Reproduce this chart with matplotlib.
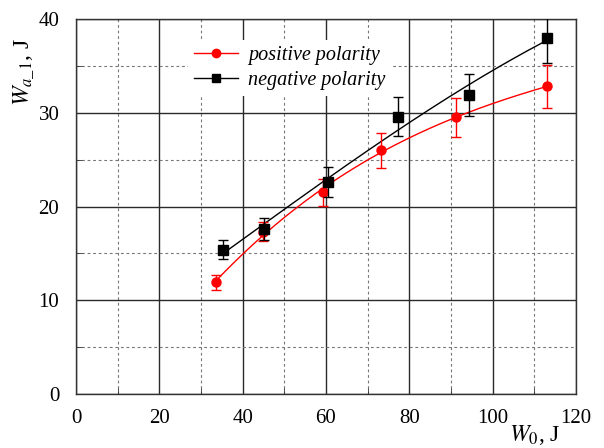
import numpy as np
import matplotlib
matplotlib.use("Agg")
import matplotlib.pyplot as plt
from matplotlib.ticker import MultipleLocator

plt.rcParams['font.family'] = ['Liberation Serif', 'DejaVu Serif']
plt.rcParams['mathtext.fontset'] = 'stix'

# positive polarity
x_pos = [33.5, 44.9, 59.4, 73.2, 91.2, 113.0]
y_pos = [11.9, 17.3, 21.5, 26.0, 29.5, 32.8]
e_pos = [0.8, 1.0, 1.4, 1.85, 2.1, 2.3]

# negative polarity
x_neg = [35.4, 45.2, 60.4, 77.4, 94.4, 113.0]
y_neg = [15.4, 17.6, 22.6, 29.6, 31.9, 38.0]
e_neg = [1.05, 1.2, 1.6, 2.05, 2.2, 2.7]


def suave(x, y, grau=3):
    # curva de ajuste polinomial
    c = np.polyfit(x, y, grau)
    xx = np.linspace(min(x), max(x), 200)
    return xx, np.polyval(c, xx)


fig = plt.figure(figsize=(6.04, 4.48), dpi=100)
ax = fig.add_axes([0.1258, 0.1205, 0.8278, 0.8371])

# grade
ax.set_xlim(0, 120)
ax.set_ylim(0, 40)
ax.xaxis.set_major_locator(MultipleLocator(20))
ax.xaxis.set_minor_locator(MultipleLocator(10))
ax.yaxis.set_major_locator(MultipleLocator(10))
ax.yaxis.set_minor_locator(MultipleLocator(5))
ax.grid(which='major', color='#2a2a2a', lw=1.0, ls='-')
ax.grid(which='minor', color='#777777', lw=0.8, ls=(0, (2.5, 2.5)))
ax.set_axisbelow(True)
ax.tick_params(which='both', direction='in', top=False, right=False,
               labelsize=15, color='#333333')
ax.tick_params(axis='x', pad=11)
ax.tick_params(axis='y', pad=12)
ax.tick_params(which='major', length=0)
ax.tick_params(which='minor', length=4)
for s in ax.spines.values():
    s.set_color('#333333')
    s.set_linewidth(1.0)

# curvas
xx, yy = suave(x_pos, y_pos)
ax.plot(xx, yy, color='red', lw=1.0, zorder=3)
xx, yy = suave(x_neg, y_neg)
ax.plot(xx, yy, color='black', lw=1.0, zorder=3)

ax.errorbar(x_pos, y_pos, yerr=e_pos, fmt='o', color='red', ms=6.5,
            capsize=3.5, elinewidth=1.0, capthick=1.0, zorder=4)
ax.errorbar(x_neg, y_neg, yerr=e_neg, fmt='s', color='black', ms=6.5,
            capsize=3.5, elinewidth=1.0, capthick=1.0, zorder=5)

# legenda
h1, = ax.plot([], [], color='red', marker='o', ms=6, lw=1.0,
              label='positive polarity')
h2, = ax.plot([], [], color='black', marker='s', ms=6, lw=1.0,
              label='negative polarity')
leg = ax.legend(handles=[h1, h2], loc='upper left',
                bbox_to_anchor=(0.203, 0.972), frameon=True, framealpha=1,
                edgecolor='none', fancybox=False, handlelength=2.2,
                handletextpad=0.5, labelspacing=0.3, borderpad=0.3,
                prop={'style': 'italic', 'size': 14.5})

ax.set_ylabel(r'$W_{a\_1}$, J', fontsize=17)
ax.yaxis.set_label_coords(-0.078, 0.86)
ax.set_xlabel(r'$W_0$, J', fontsize=17)
ax.xaxis.set_label_coords(0.918, -0.077)

fig.savefig('out.png', dpi=100)
